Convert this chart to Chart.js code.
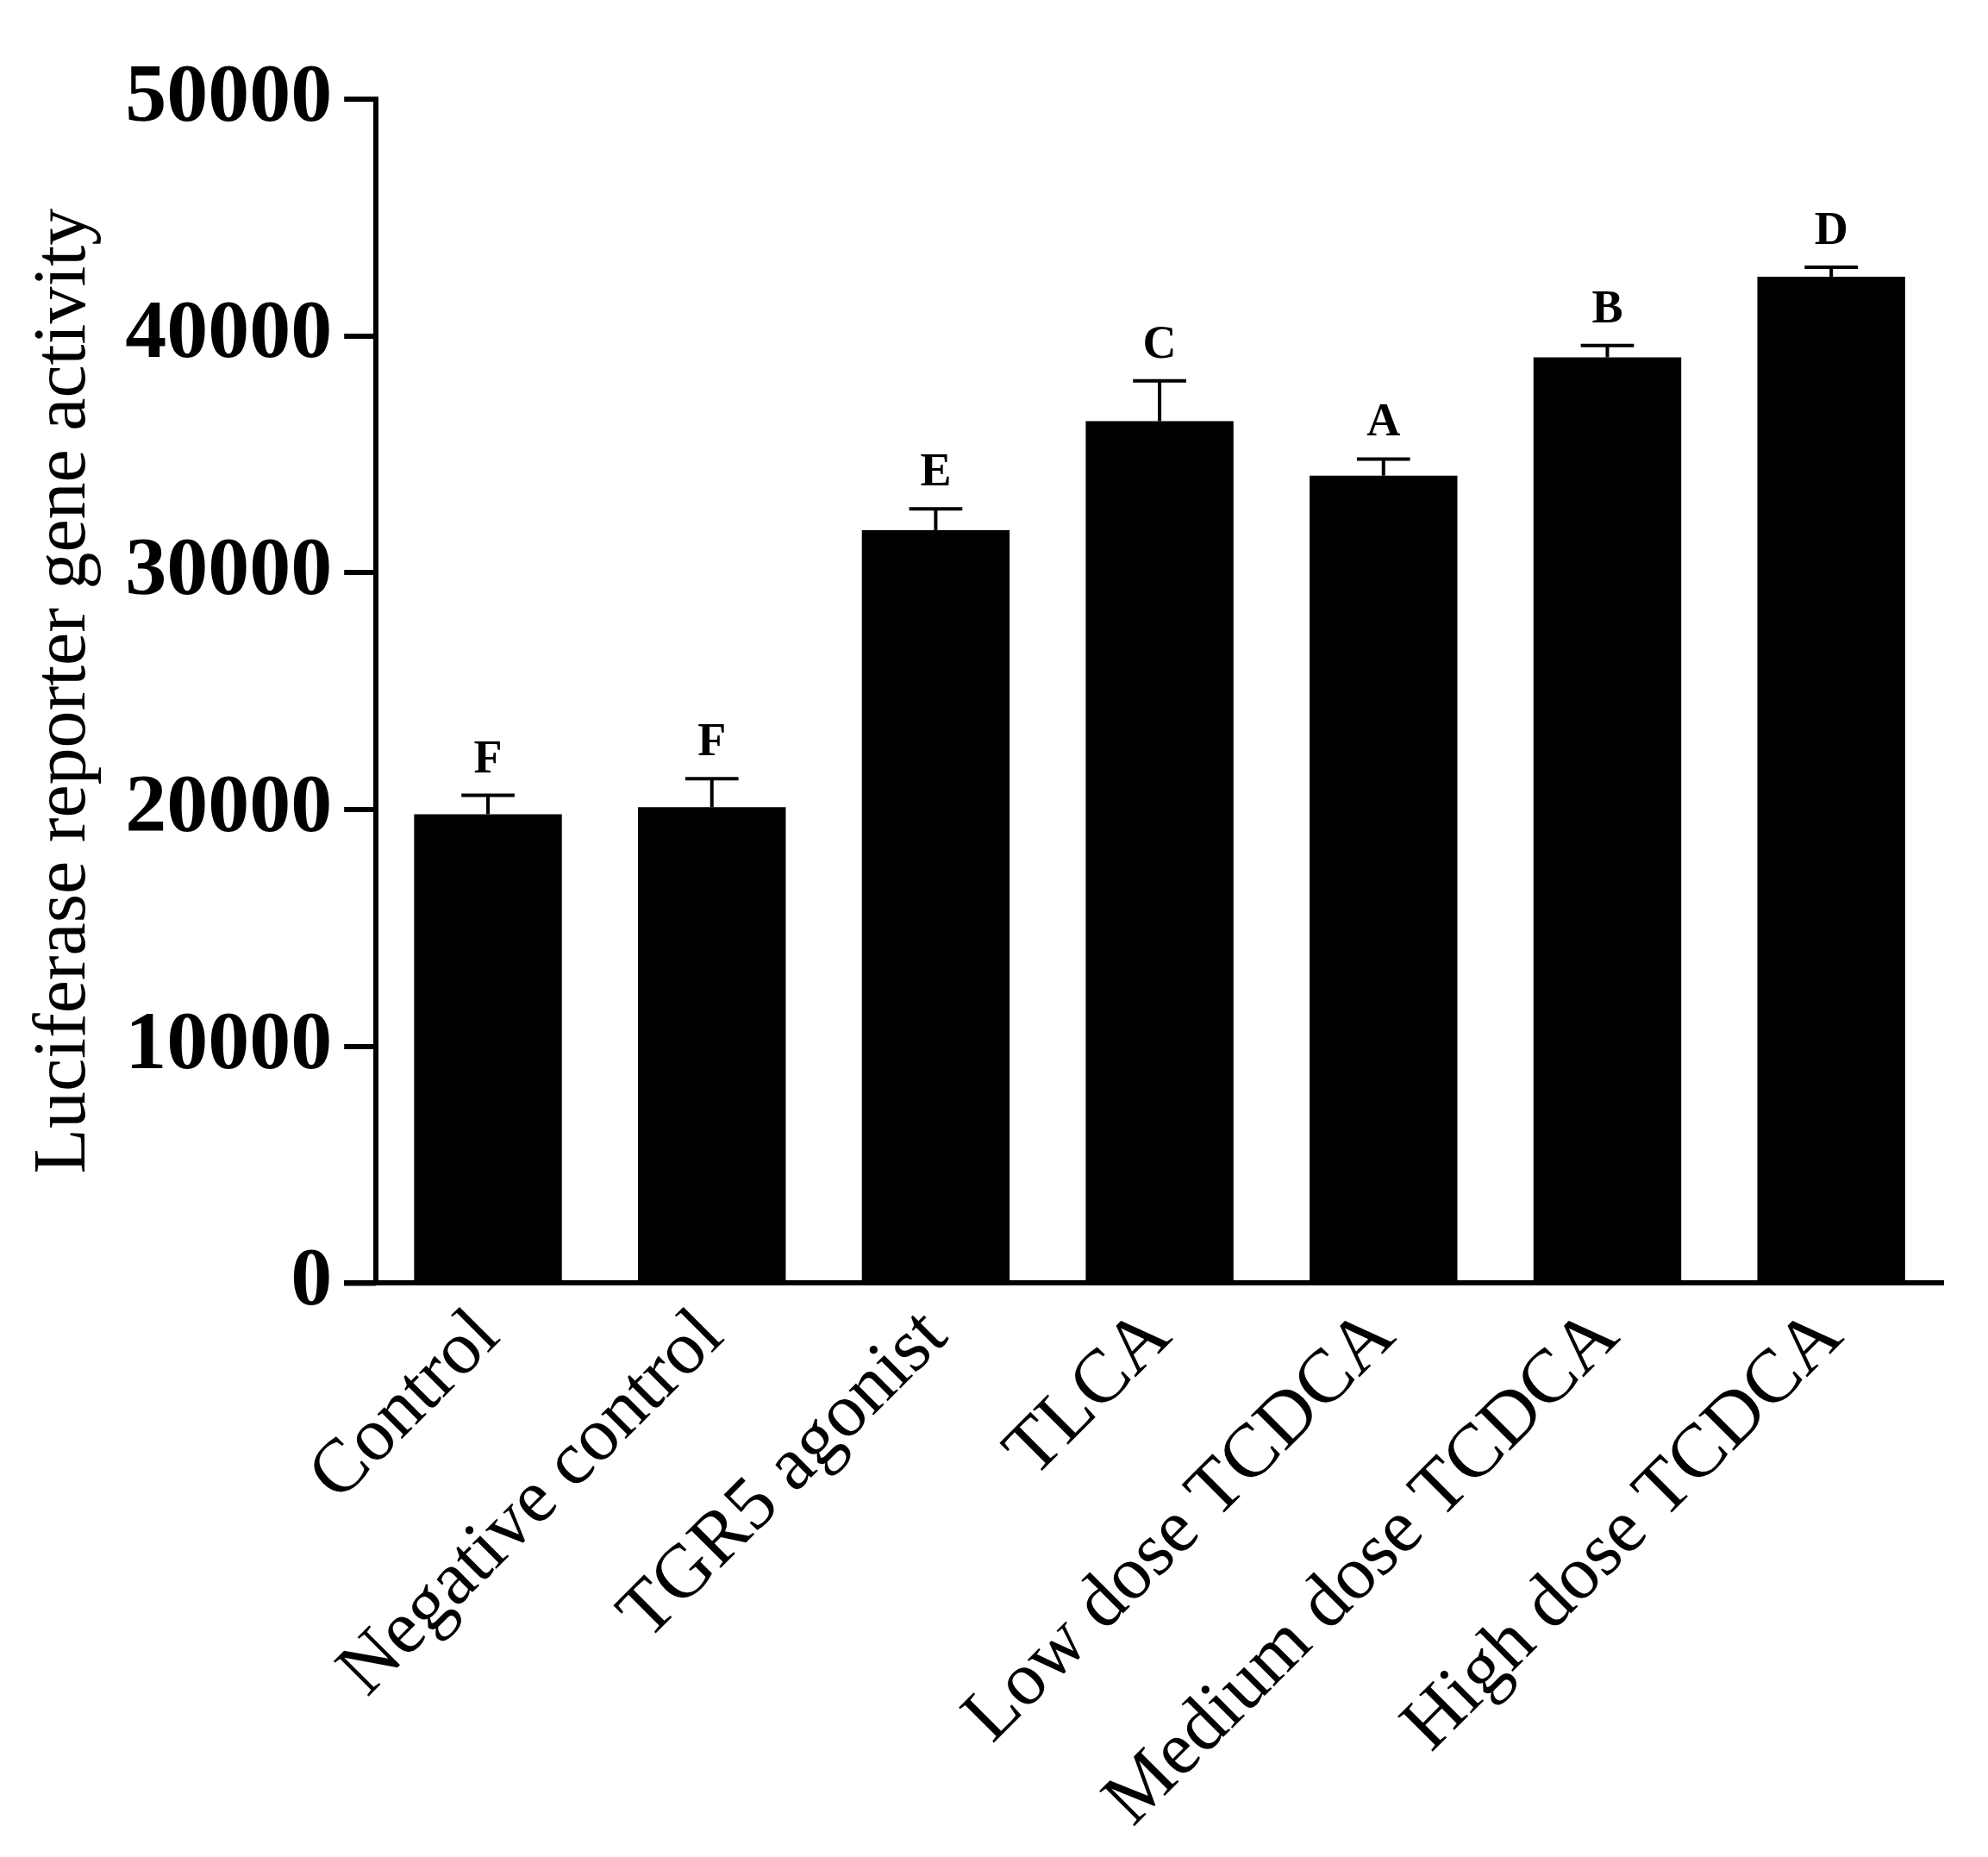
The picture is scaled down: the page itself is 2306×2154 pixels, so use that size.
<!DOCTYPE html>
<html>
<head>
<meta charset="utf-8">
<script src="https://cdn.jsdelivr.net/npm/chart.js@4"></script>
<style>body{margin:0;background:#fff}</style>
</head>
<body>
<canvas id="c" width="2306" height="2154"></canvas>
<script>
var categories = ['Control', 'Negative control', 'TGR5 agonist', 'TLCA', 'Low dose TCDCA', 'Medium dose TCDCA', 'High dose TCDCA'];
var values = [19800, 20100, 31800, 36400, 34100, 39100, 42500];
var errors = [800, 1200, 900, 1700, 700, 500, 400];
var letters = ['F', 'F', 'E', 'C', 'A', 'B', 'D'];
var serif = "'Liberation Serif', 'Times New Roman', serif";

// error bars, letters and the x axis stub left of the y axis
var extras = {
    id: 'extras',
    afterDatasetsDraw: function(chart) {
        var ctx = chart.ctx, x = chart.scales.x, y = chart.scales.y;
        var meta = chart.getDatasetMeta(0);
        ctx.save();
        ctx.strokeStyle = '#000';
        ctx.fillStyle = '#000';
        ctx.lineWidth = 4;
        ctx.font = 'bold 54px ' + serif;
        ctx.textAlign = 'center';
        ctx.textBaseline = 'bottom';
        meta.data.forEach(function(bar, i) {
            var top = y.getPixelForValue(values[i] + errors[i]);
            var cx = bar.x, half = bar.width * 0.18;
            ctx.beginPath();
            ctx.moveTo(cx, y.getPixelForValue(values[i]));
            ctx.lineTo(cx, top);
            ctx.moveTo(cx - half, top);
            ctx.lineTo(cx + half, top);
            ctx.stroke();
            ctx.fillText(letters[i], cx, top - 14);
        });
        ctx.lineWidth = 6;
        ctx.beginPath();
        ctx.moveTo(chart.chartArea.left - 37, y.getPixelForValue(0));
        ctx.lineTo(chart.chartArea.left, y.getPixelForValue(0));
        ctx.stroke();
        ctx.restore();
    }
};

new Chart(document.getElementById('c'), {
    type: 'bar',
    data: {
        labels: categories,
        datasets: [{
            data: values,
            backgroundColor: '#000',
            borderWidth: 0,
            barPercentage: 0.66,
            categoryPercentage: 1.0
        }]
    },
    options: {
        responsive: false,
        animation: false,
        layout: { padding: { left: 20, right: 52, top: 115, bottom: 10 } },
        plugins: { legend: { display: false }, tooltip: { enabled: false } },
        scales: {
            x: {
                grid: { display: false },
                border: { color: '#000', width: 6 },
                ticks: {
                    color: '#000',
                    maxRotation: 45,
                    minRotation: 45,
                    font: { family: serif, size: 88 }
                }
            },
            y: {
                min: 0,
                max: 50000,
                grid: { drawOnChartArea: false, tickLength: 37, color: '#000', lineWidth: 6 },
                border: { color: '#000', width: 6 },
                ticks: {
                    stepSize: 10000,
                    color: '#000',
                    padding: 14,
                    font: { family: serif, size: 96, weight: 'bold' },
                    callback: function(v) { return String(v); }
                },
                title: {
                    display: true,
                    text: 'Luciferase reporter gene activity',
                    color: '#000',
                    font: { family: serif, size: 86 }
                }
            }
        }
    },
    plugins: [extras]
});
</script>
</body>
</html>
